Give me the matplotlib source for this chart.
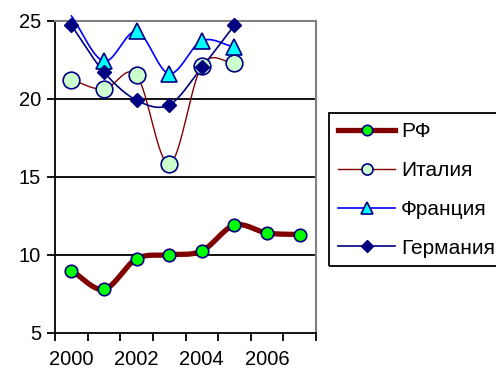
import numpy as np
import matplotlib.pyplot as plt
from matplotlib.lines import Line2D
from matplotlib.patches import Rectangle

plt.rcParams["font.family"] = ["Liberation Sans", "DejaVu Sans"]

years = [2000, 2001, 2002, 2003, 2004, 2005, 2006, 2007]
rf = [9.0, 7.8, 9.75, 10.0, 10.25, 11.9, 11.4, 11.3]
italy = [21.2, 20.6, 21.5, 15.8, 22.1, 22.3]
france = [25.3, 22.4, 24.3, 21.6, 23.7, 23.3]
germany = [24.7, 21.7, 19.9, 19.6, 22.0, 24.7]
names = ["РФ", "Италия", "Франция", "Германия"]


def smooth(y, n=30):
    # Excel-like smoothed line (Catmull-Rom through the points)
    y = np.asarray(y, float)
    x = np.arange(len(y), dtype=float)
    p = np.concatenate([[2 * y[0] - y[1]], y, [2 * y[-1] - y[-2]]])
    xs, ys = [], []
    for i in range(len(y) - 1):
        t = np.linspace(0, 1, n, endpoint=False)
        p0, p1, p2, p3 = p[i], p[i + 1], p[i + 2], p[i + 3]
        v = 0.5 * ((2 * p1) + (-p0 + p2) * t + (2 * p0 - 5 * p1 + 4 * p2 - p3) * t ** 2
                   + (-p0 + 3 * p1 - 3 * p2 + p3) * t ** 3)
        xs.append(x[i] + t)
        ys.append(v)
    xs.append([x[-1]])
    ys.append([y[-1]])
    return np.concatenate(xs), np.concatenate(ys)


fig = plt.figure(figsize=(4.96, 3.74), dpi=100)
ax = fig.add_axes([55 / 496, 1 - 333 / 374, (316 - 55) / 496, (333 - 20.5) / 374])

ax.set_ylim(5, 25)
ax.set_xlim(-0.5, 7.5)

for v in [10, 15, 20]:
    ax.axhline(v, color="black", lw=1.3, zorder=1)

styles = [
    dict(color="#800000", lw=3.8, marker="o", mfc="#00FF00", mec="#000080", ms=9, mew=1.2),
    dict(color="#800000", lw=1.0, marker="o", mfc="#CCFFCC", mec="#000080", ms=12, mew=1.2),
    dict(color="#0000FF", lw=1.2, marker="^", mfc="#00FFFF", mec="#000080", ms=11, mew=1.2),
    dict(color="#000080", lw=1.2, marker="D", mfc="#000080", mec="#000080", ms=7, mew=1.0),
]
legend_ms = [7.5, 8, 8.5, 6]
series = [rf, italy, france, germany]

handles = []
for vals, st, name, lms in zip(series, styles, names, legend_ms):
    sx, sy = smooth(vals)
    ax.plot(sx, sy, color=st["color"], lw=st["lw"], clip_on=False, zorder=3,
            solid_capstyle="round")
    idx = [i for i, v in enumerate(vals) if v <= 25]
    ax.plot(idx, [vals[i] for i in idx], ls="none", marker=st["marker"], mfc=st["mfc"],
            mec=st["mec"], ms=st["ms"], mew=st["mew"], clip_on=False, zorder=4)
    hs = dict(st)
    hs["ms"] = lms
    handles.append(Line2D([], [], label=name, **hs))

ax.set_yticks([5, 10, 15, 20, 25])
ax.set_xticks(np.arange(-0.5, 8, 1))
ax.set_xticklabels([])
ax.set_xticks([0, 2, 4, 6], minor=True)
ax.set_xticklabels([str(years[i]) for i in [0, 2, 4, 6]], minor=True)
ax.tick_params(axis="both", which="major", direction="out", length=6, width=1.3,
               labelsize=14.5, color="black")
ax.tick_params(axis="x", which="minor", length=0, labelsize=14.5, pad=12)
ax.tick_params(axis="y", pad=4)

ax.spines["left"].set_linewidth(1.3)
ax.spines["bottom"].set_linewidth(1.3)
ax.spines["top"].set_color("#808080")
ax.spines["right"].set_color("#808080")
ax.spines["top"].set_linewidth(1.5)
ax.spines["right"].set_linewidth(1.5)

# legend frame runs off the right edge, as in the original
fig.patches.append(Rectangle((329 / 496, 1 - 266 / 374), 200 / 496, 153 / 374,
                             transform=fig.transFigure, fill=False,
                             edgecolor="black", lw=1.3))
leg = fig.legend(handles=handles, loc="upper left",
                 bbox_to_anchor=(329 / 496, 1 - 113 / 374),
                 fontsize=15, frameon=False,
                 handlelength=2.7, handletextpad=0.3, labelspacing=0.95,
                 borderpad=0.45, borderaxespad=0)

fig.savefig("out.png", dpi=100)
